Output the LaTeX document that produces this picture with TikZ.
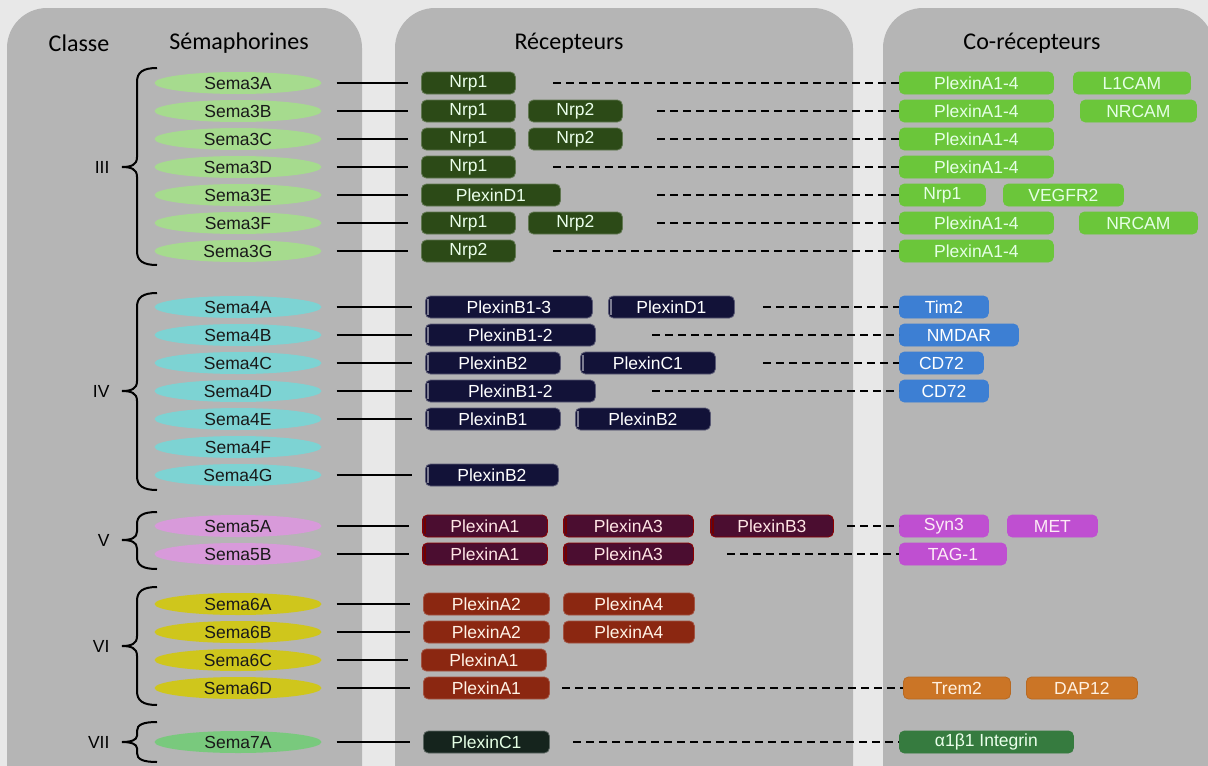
\documentclass[tikz,border=0pt]{standalone}
\usepackage{fontspec}
\setmainfont{Liberation Sans}
\newfontfamily\hdrfont{Carlito}
\usetikzlibrary{shapes.geometric}
\definecolor{bgcol}{HTML}{E8E8E8}
\definecolor{panelcol}{HTML}{B5B5B5}
\definecolor{semaIII}{HTML}{A6DB8E}
\definecolor{semaIV}{HTML}{7DD3D3}
\definecolor{semaV}{HTML}{D89ADA}
\definecolor{semaVI}{HTML}{CFC61C}
\definecolor{semaVII}{HTML}{79C97D}
\definecolor{rgreen}{HTML}{2C4A17}
\definecolor{rnavy}{HTML}{121238}
\definecolor{rmaroon}{HTML}{4B0D30}
\definecolor{rrust}{HTML}{8B2711}
\definecolor{rblack}{HTML}{15241D}
\definecolor{cgreen}{HTML}{6BC63A}
\definecolor{cblue}{HTML}{3D7FD3}
\definecolor{cmag}{HTML}{BF4FD1}
\definecolor{corange}{HTML}{CB7526}
\definecolor{cint}{HTML}{367B3F}
\newcommand\labfont{\fontsize{17.5}{17.5}\selectfont}
\newcommand\bx[6]{\node[#5, minimum width={#3-#2}] (#1) at (#2,#4) {#6};}
\newcommand\sbrace[4]{% top, bottom, mid, radius
  \draw[braceline] (157,#1) .. controls (143,#1) and (137,#1+#4*0.3) .. (137,#1+#4)
    -- (137,#3-#4*0.7) .. controls (137,#3-2) and (131,#3) .. (122,#3)
    .. controls (131,#3) and (137,#3+2) .. (137,#3+#4*0.7)
    -- (137,#2-#4) .. controls (137,#2-#4*0.3) and (143,#2) .. (157,#2);}
\begin{document}
\begin{tikzpicture}[x=1pt,y=-1pt,
  sema/.style={ellipse, minimum width=167pt, minimum height=22pt, inner sep=0pt, font=\labfont, text=black!90},
  rbox/.style={rounded corners=5pt, minimum height=22pt, inner sep=0pt, font=\labfont, anchor=west, line width=0.8pt},
  stNrp/.style={rbox, fill=rgreen, draw=rgreen!75!white, text=green!8!white},
  stNavy/.style={rbox, fill=rnavy, draw=rnavy!70!white, text=white,
    path picture={\draw[rnavy!55!white, line width=1.2pt] ([xshift=2.5pt,yshift=-3pt]path picture bounding box.north west) -- ([xshift=2.5pt,yshift=3pt]path picture bounding box.south west);}},
  stMaroon/.style={rbox, fill=rmaroon, draw=red!55!black, text=pink!40!white,
    path picture={\draw[red!45!black, line width=1.2pt] ([xshift=2.5pt,yshift=-3pt]path picture bounding box.north west) -- ([xshift=2.5pt,yshift=3pt]path picture bounding box.south west);}},
  stRust/.style={rbox, fill=rrust, draw=rrust!80!white, text=orange!10!white},
  stBlk/.style={rbox, fill=rblack, draw=rblack!70!white, text=white!90!green},
  coGreen/.style={rbox, fill=cgreen, draw=cgreen, text=green!10!white},
  coBlue/.style={rbox, fill=cblue, draw=cblue, text=white},
  coMag/.style={rbox, fill=cmag, draw=cmag, text=magenta!8!white},
  coOrange/.style={rbox, fill=corange, draw=corange!90!black, text=orange!12!white},
  coInt/.style={rbox, fill=cint, draw=cint, text=green!8!white},
  solidcon/.style={line width=2pt, shorten <=15pt, shorten >=13pt},
  dashcon/.style={line width=2pt, dash pattern=on 8pt off 5pt},
  braceline/.style={line width=2pt},
  header/.style={font=\hdrfont\fontsize{24}{24}\selectfont},
  roman/.style={font=\labfont, anchor=east}]
\useasboundingbox (0,0) rectangle (1208,766);
\clip (0,0) rectangle (1208,766);
\fill[bgcol] (0,0) rectangle (1208,766);
% panels
\fill[panelcol, rounded corners=40pt] (7,820) -- (7,8) -- (362,8) -- (362,820) -- cycle;
\fill[panelcol, rounded corners=40pt] (395,820) -- (395,8) -- (853,8) -- (853,820) -- cycle;
\fill[panelcol, rounded corners=40pt] (883,820) -- (883,8) -- (1214,8) -- (1214,820) -- cycle;
% headers
\node[header] (hclasse) at (79,43) {Classe};
\node[header] (hsema) at (239,43) {Sémaphorines};
\node[header] (hrec) at (569,43) {Récepteurs};
\node[header] (hco) at (1032,43) {Co-récepteurs};
% braces and class labels
\sbrace{68}{265}{167}{14}
\sbrace{293}{490}{391}{14}
\sbrace{512}{569}{540}{12}
\sbrace{587}{705}{646}{14}
\sbrace{722}{762}{742}{9}
\node[roman] (cIII) at (113,167) {III};
\node[roman] (cIV) at (113,391) {IV};
\node[roman] (cV) at (113,540) {V};
\node[roman] (cVI) at (113,646) {VI};
\node[roman] (cVII) at (113,742) {VII};
% semaphorins
\node[sema, fill=semaIII] (s3A) at (238,83) {Sema3A};
\node[sema, fill=semaIII] (s3B) at (238,111) {Sema3B};
\node[sema, fill=semaIII] (s3C) at (238,139) {Sema3C};
\node[sema, fill=semaIII] (s3D) at (238,167) {Sema3D};
\node[sema, fill=semaIII] (s3E) at (238,195) {Sema3E};
\node[sema, fill=semaIII] (s3F) at (238,223) {Sema3F};
\node[sema, fill=semaIII] (s3G) at (238,251) {Sema3G};
\node[sema, fill=semaIV] (s4A) at (238,307) {Sema4A};
\node[sema, fill=semaIV] (s4B) at (238,335) {Sema4B};
\node[sema, fill=semaIV] (s4C) at (238,363) {Sema4C};
\node[sema, fill=semaIV] (s4D) at (238,391) {Sema4D};
\node[sema, fill=semaIV] (s4E) at (238,419) {Sema4E};
\node[sema, fill=semaIV] (s4F) at (238,447) {Sema4F};
\node[sema, fill=semaIV] (s4G) at (238,475) {Sema4G};
\node[sema, fill=semaV] (s5A) at (238,526) {Sema5A};
\node[sema, fill=semaV] (s5B) at (238,554) {Sema5B};
\node[sema, fill=semaVI] (s6A) at (238,604) {Sema6A};
\node[sema, fill=semaVI] (s6B) at (238,632) {Sema6B};
\node[sema, fill=semaVI] (s6C) at (238,660) {Sema6C};
\node[sema, fill=semaVI] (s6D) at (238,688) {Sema6D};
\node[sema, fill=semaVII] (s7A) at (238,742) {Sema7A};
% receptors
\bx{r3A}{421}{515}{83}{stNrp}{Nrp1}
\bx{r3Ba}{421}{515}{111}{stNrp}{Nrp1}
\bx{r3Bb}{528}{622}{111}{stNrp}{Nrp2}
\bx{r3Ca}{421}{515}{139}{stNrp}{Nrp1}
\bx{r3Cb}{528}{622}{139}{stNrp}{Nrp2}
\bx{r3D}{421}{515}{167}{stNrp}{Nrp1}
\bx{r3E}{421}{560}{195}{stNrp}{PlexinD1}
\bx{r3Fa}{421}{515}{223}{stNrp}{Nrp1}
\bx{r3Fb}{528}{622}{223}{stNrp}{Nrp2}
\bx{r3G}{421}{515}{251}{stNrp}{Nrp2}
\bx{r4Aa}{425}{592}{307}{stNavy}{PlexinB1-3}
\bx{r4Ab}{608}{734}{307}{stNavy}{PlexinD1}
\bx{r4B}{425}{595}{335}{stNavy}{PlexinB1-2}
\bx{r4Ca}{425}{560}{363}{stNavy}{PlexinB2}
\bx{r4Cb}{580}{715}{363}{stNavy}{PlexinC1}
\bx{r4D}{425}{595}{391}{stNavy}{PlexinB1-2}
\bx{r4Ea}{425}{560}{419}{stNavy}{PlexinB1}
\bx{r4Eb}{575}{710}{419}{stNavy}{PlexinB2}
\bx{r4G}{425}{558}{475}{stNavy}{PlexinB2}
\bx{r5Aa}{422}{547}{526}{stMaroon}{PlexinA1}
\bx{r5Ab}{563}{693}{526}{stMaroon}{PlexinA3}
\bx{r5Ac}{710}{833}{526}{stMaroon}{PlexinB3}
\bx{r5Ba}{422}{547}{554}{stMaroon}{PlexinA1}
\bx{r5Bb}{563}{693}{554}{stMaroon}{PlexinA3}
\bx{r6Aa}{423}{549}{604}{stRust}{PlexinA2}
\bx{r6Ab}{563}{694}{604}{stRust}{PlexinA4}
\bx{r6Ba}{423}{549}{632}{stRust}{PlexinA2}
\bx{r6Bb}{563}{694}{632}{stRust}{PlexinA4}
\bx{r6C}{421}{546}{660}{stRust}{PlexinA1}
\bx{r6D}{423}{549}{688}{stRust}{PlexinA1}
\bx{r7A}{423}{549}{742}{stBlk}{PlexinC1}
% co-receptors
\bx{c3Aa}{899}{1053}{83}{coGreen}{PlexinA1-4}
\bx{c3Ab}{1073}{1190}{83}{coGreen}{L1CAM}
\bx{c3Ba}{899}{1053}{111}{coGreen}{PlexinA1-4}
\bx{c3Bb}{1080}{1196}{111}{coGreen}{NRCAM}
\bx{c3C}{899}{1053}{139}{coGreen}{PlexinA1-4}
\bx{c3D}{899}{1053}{167}{coGreen}{PlexinA1-4}
\bx{c3Ea}{899}{985}{195}{coGreen}{Nrp1}
\bx{c3Eb}{1003}{1123}{195}{coGreen}{VEGFR2}
\bx{c3Fa}{899}{1053}{223}{coGreen}{PlexinA1-4}
\bx{c3Fb}{1079}{1197}{223}{coGreen}{NRCAM}
\bx{c3G}{899}{1053}{251}{coGreen}{PlexinA1-4}
\bx{c4A}{899}{988}{307}{coBlue}{Tim2}
\bx{c4B}{899}{1018}{335}{coBlue}{NMDAR}
\bx{c4C}{899}{983}{363}{coBlue}{CD72}
\bx{c4D}{899}{988}{391}{coBlue}{CD72}
\bx{c5Aa}{899}{988}{526}{coMag}{Syn3}
\bx{c5Ab}{1007}{1097}{526}{coMag}{MET}
\bx{c5B}{899}{1006}{554}{coMag}{TAG-1}
\bx{c6Da}{903}{1010}{688}{coOrange}{Trem2}
\bx{c6Db}{1026}{1137}{688}{coOrange}{DAP12}
\bx{c7A}{899}{1073}{742}{coInt}{α1β1 Integrin}
% solid connectors
\foreach \s/\r in {s3A/r3A, s3B/r3Ba, s3C/r3Ca, s3D/r3D, s3E/r3E, s3F/r3Fa, s3G/r3G,
  s4A/r4Aa, s4B/r4B, s4C/r4Ca, s4D/r4D, s4E/r4Ea, s4G/r4G,
  s5A/r5Aa, s5B/r5Ba, s6A/r6Aa, s6B/r6Ba, s6C/r6C, s6D/r6D, s7A/r7A}
  \draw[solidcon] (\s.east) -- (\r.west);
% dashed connectors
\coordinate (d3A) at (553,83);
\coordinate (d3B) at (657,111);
\coordinate (d3C) at (657,139);
\coordinate (d3D) at (553,167);
\coordinate (d3E) at (657,195);
\coordinate (d3F) at (657,223);
\coordinate (d3G) at (553,251);
\coordinate (d4A) at (763,307);
\coordinate (d4B) at (652,335);
\coordinate (d4C) at (763,363);
\coordinate (d4D) at (652,391);
\coordinate (d5A) at (847,526);
\coordinate (d5B) at (727,554);
\coordinate (d6D) at (562,688);
\coordinate (d7A) at (573,742);
\foreach \d/\c in {d3A/c3Aa, d3B/c3Ba, d3C/c3C, d3D/c3D, d3E/c3Ea, d3F/c3Fa, d3G/c3G,
  d4A/c4A, d4B/c4B, d4C/c4C, d4D/c4D, d5A/c5Aa, d5B/c5B, d6D/c6Da, d7A/c7A}
  \draw[dashcon] (\d) -- (\c.west);
\end{tikzpicture}
\end{document}
